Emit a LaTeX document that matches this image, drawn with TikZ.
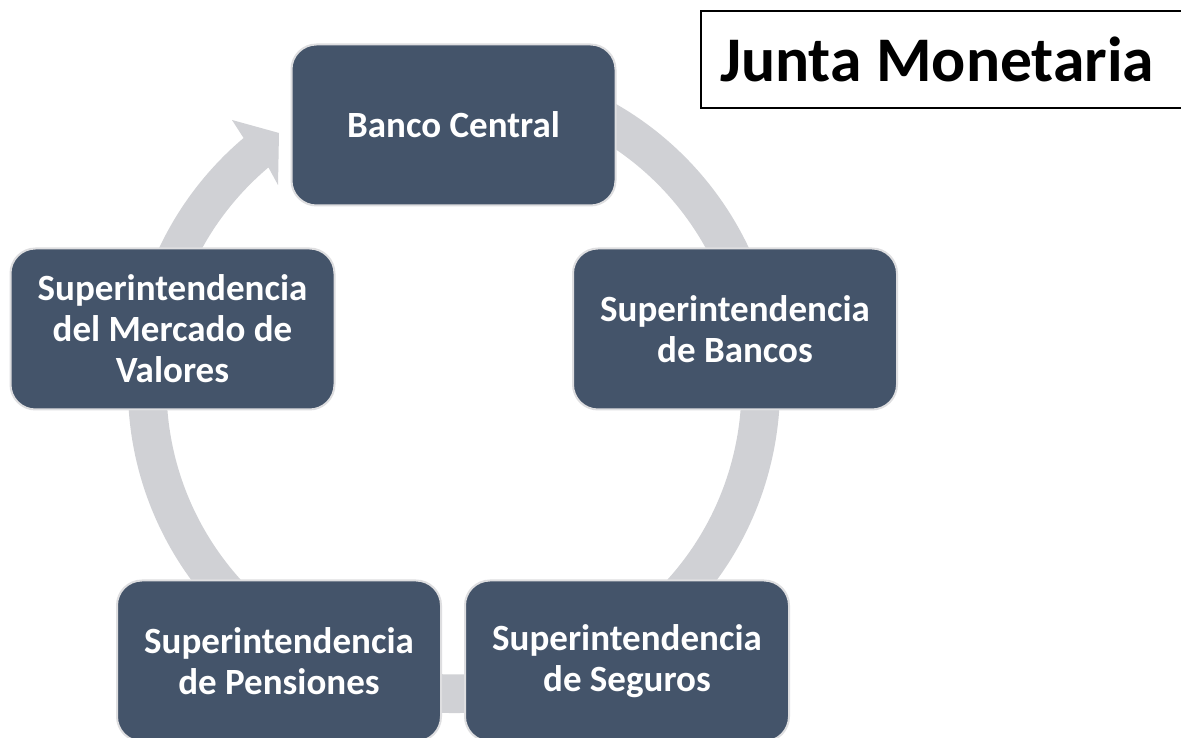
\documentclass[tikz,border=0pt]{standalone}
\usepackage{fontspec}
\setmainfont{Carlito}
\definecolor{boxfill}{RGB}{68,84,106}
\definecolor{boxline}{RGB}{222,222,224}
\definecolor{ringgray}{RGB}{208,209,213}
\begin{document}
\begin{tikzpicture}[x=1pt,y=1pt,
  stage/.style={draw=boxline, line width=2pt, fill=boxfill, rounded corners=25pt,
    minimum width=324pt, minimum height=161pt, text=white, inner sep=0pt,
    font=\bfseries\fontsize{37}{41}\selectfont, align=center},
  titletext/.style={anchor=west, inner sep=0pt,
    font=\bfseries\fontsize{63.6}{70}\selectfont},
  titleframe/.style={draw=black, line width=1.5pt}]
\clip (0,0) rectangle (1181,738);
\fill[white] (0,0) rectangle (1181,738);
% continuous cycle ring with its arrowhead
\begin{scope}[shift={(454,351)}]
  \fill[ringgray] (80:326) arc[start angle=80, end angle=-229.8, radius=326]
    -- (-222,267) -- (-175,254) -- (-176,202)
    -- (-229.8:287.5) arc[start angle=-229.8, end angle=80, radius=287.5] -- cycle;
\end{scope}
\node[stage] (bc)  at (453.5,613) {Banco Central};
\node[stage] (sb)  at (735,409)   {Superintendencia\\de Bancos};
\node[stage] (ss)  at (627,77)    {Superintendencia\\de Seguros};
\node[stage] (sp)  at (279,77)    {Superintendencia\\de Pensiones};
\node[stage] (smv) at (172.5,409) {Superintendencia\\del Mercado de\\Valores};
\node[titletext] (jm) at (720,678.5) {Junta Monetaria};
\draw[titleframe] (701,630) rectangle (1190,727);
\end{tikzpicture}
\end{document}
